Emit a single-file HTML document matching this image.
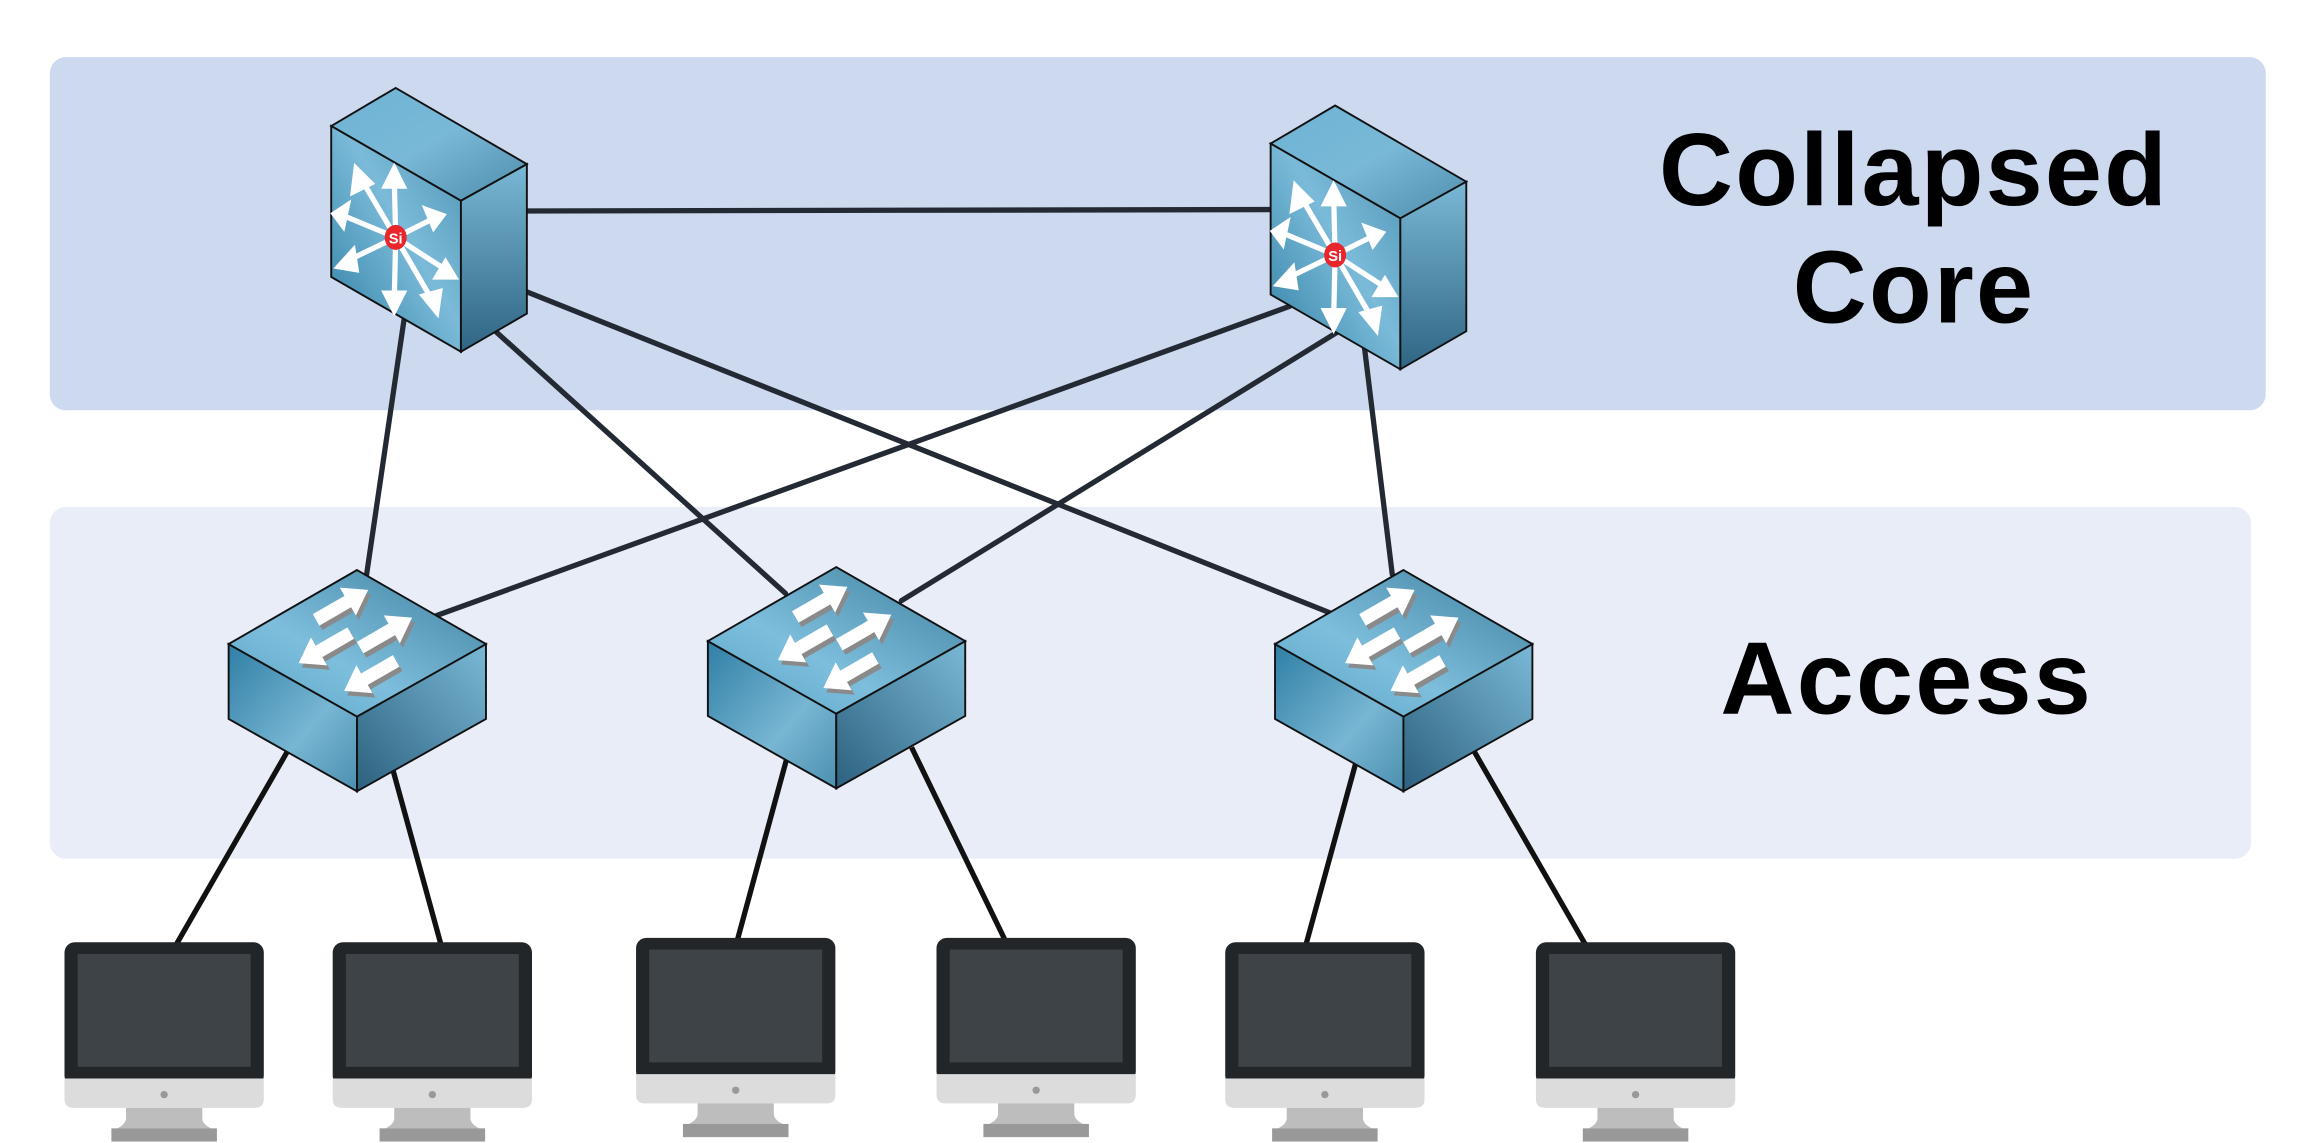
<!DOCTYPE html>
<html><head><meta charset="utf-8"><style>
html,body{margin:0;padding:0;background:#fff;}
svg{display:block;}
</style></head><body>
<svg width="2298" height="1143" viewBox="0 0 1568 780" preserveAspectRatio="none" xmlns="http://www.w3.org/2000/svg">
<defs>
<linearGradient id="cf" x1="0" y1="1" x2="1" y2="0"><stop offset="0" stop-color="#2f7ea3"/><stop offset="0.55" stop-color="#7bbbd9"/><stop offset="1" stop-color="#4f93b3"/></linearGradient>
<linearGradient id="ct" x1="0" y1="0" x2="1" y2="1"><stop offset="0" stop-color="#6db2d3"/><stop offset="0.5" stop-color="#79b9d7"/><stop offset="1" stop-color="#4d8dab"/></linearGradient>
<linearGradient id="cs" x1="0" y1="0" x2="0" y2="1"><stop offset="0" stop-color="#79b8d6"/><stop offset="1" stop-color="#2e6583"/></linearGradient>
<linearGradient id="at" x1="0" y1="1" x2="1" y2="0"><stop offset="0" stop-color="#5aa3c6"/><stop offset="0.4" stop-color="#7dbedc"/><stop offset="1" stop-color="#3f7f9e"/></linearGradient>
<linearGradient id="al" x1="0" y1="0" x2="1" y2="1"><stop offset="0" stop-color="#2f7fa6"/><stop offset="0.6" stop-color="#78b6d3"/><stop offset="1" stop-color="#4b8fb0"/></linearGradient>
<linearGradient id="ar" x1="0" y1="1" x2="1" y2="0"><stop offset="0" stop-color="#2c617f"/><stop offset="1" stop-color="#7ab9d6"/></linearGradient>
<path id="arw" d="M-20,-4.5 H5 V-11 L21,0 L5,11 V4.5 H-20 Z"/>
<g id="core">
<polygon points="226,86 270,60 359.5,112 314.5,137" fill="url(#ct)" stroke="#111" stroke-width="1.3"/>
<polygon points="226,86 314.5,137 314.5,240 226,189" fill="url(#cf)" stroke="#111" stroke-width="1.3"/>
<polygon points="314.5,137 359.5,112 359.5,214 314.5,240" fill="url(#cs)" stroke="#111" stroke-width="1.3"/>
<g stroke="#fff" stroke-width="3.6" fill="#fff">
<line x1="270" y1="162" x2="269" y2="122"/><polygon points="263,127 269,115 275,127"/>
<line x1="270" y1="162" x2="269" y2="205"/><polygon points="263,200 269,212 275,200"/>
<line x1="270" y1="162" x2="247" y2="123"/><polygon points="241,131 243,115 253,125"/>
<line x1="270" y1="162" x2="234" y2="147"/><polygon points="237,140 228,146 234,154"/>
<line x1="270" y1="162" x2="296" y2="149"/><polygon points="291,143 302,147 296,155"/>
<line x1="270" y1="162" x2="237" y2="178"/><polygon points="241,171 231,182 243,184"/>
<line x1="270" y1="162" x2="304" y2="184"/><polygon points="298,189 310,189 304,179"/>
<line x1="270" y1="162" x2="295" y2="205"/><polygon points="289,202 298,213 300,199"/>
</g>
<ellipse cx="270" cy="162" rx="7.5" ry="8.5" fill="#e8262c"/>
<text x="270" y="166" font-family="Liberation Sans,sans-serif" font-size="10" font-weight="bold" fill="#fff" text-anchor="middle">Si</text>
</g>
<g id="acc">
<polygon points="156,439.5 243.6,489 243.6,540 156,490.6" fill="url(#al)" stroke="#111" stroke-width="1.3"/>
<polygon points="243.6,489 331.6,439.5 331.6,490.6 243.6,540" fill="url(#ar)" stroke="#111" stroke-width="1.3"/>
<polygon points="243.6,389 331.6,439.5 243.6,489 156,439.5" fill="url(#at)" stroke="#111" stroke-width="1.3"/>
<g fill="#8a8a8a">
<use href="#arw" transform="translate(235,416) rotate(-30)"/>
<use href="#arw" transform="translate(224,445) rotate(150)"/>
<use href="#arw" transform="translate(265,435) rotate(-30)"/>
<use href="#arw" transform="translate(255,464) rotate(150)"/>
</g>
<g fill="#fff">
<use href="#arw" transform="translate(233,413) rotate(-30)"/>
<use href="#arw" transform="translate(222,442) rotate(150)"/>
<use href="#arw" transform="translate(263,432) rotate(-30)"/>
<use href="#arw" transform="translate(253,461) rotate(150)"/>
</g>
</g>
<g id="pc">
<rect x="0" y="0" width="136" height="98" rx="7" fill="#222629"/>
<rect x="9" y="8" width="118" height="77" fill="#3e4347"/>
<path d="M0,93 H136 V107 Q136,113 130,113 H6 Q0,113 0,107 Z" fill="#dcdcdc"/>
<circle cx="68" cy="104" r="2.5" fill="#999"/>
<path d="M42,113 H94 V120 Q94,124 100,127 H36 Q42,124 42,120 Z" fill="#bdbdbd"/>
<rect x="32" y="127" width="72" height="9" fill="#999"/>
</g>
</defs>
<rect x="34" y="39" width="1512" height="241" rx="11" fill="#cdd9ef"/>
<rect x="34" y="346" width="1502" height="240" rx="11" fill="#e9edf8"/>
<g stroke="#232a33" stroke-width="3.6" stroke-linecap="round">
<line x1="355" y1="144" x2="870" y2="143"/>
<line x1="276" y1="216" x2="250" y2="393"/>
<line x1="338" y1="226" x2="536" y2="405"/>
<line x1="359" y1="199" x2="907" y2="418"/>
<line x1="880" y1="209" x2="298" y2="420"/>
<line x1="912" y1="227" x2="615" y2="410"/>
<line x1="931" y1="237" x2="950" y2="392"/>
</g>
<g stroke="#111" stroke-width="3.6">
<line x1="196" y1="513" x2="120" y2="645"/>
<line x1="268" y1="525" x2="301" y2="645"/>
<line x1="537" y1="517" x2="503" y2="642"/>
<line x1="622" y1="510" x2="686" y2="642"/>
<line x1="925" y1="521" x2="891" y2="645"/>
<line x1="1006" y1="513" x2="1082" y2="645"/>
</g>
<use href="#core"/>
<use href="#core" transform="translate(641,12)"/>
<use href="#acc"/>
<use href="#acc" transform="translate(327,-2)"/>
<use href="#acc" transform="translate(714,0)"/>
<use href="#pc" transform="translate(44,643)"/>
<use href="#pc" transform="translate(227,643)"/>
<use href="#pc" transform="translate(434,640)"/>
<use href="#pc" transform="translate(639,640)"/>
<use href="#pc" transform="translate(836,643)"/>
<use href="#pc" transform="translate(1048,643)"/>
<g font-family="Liberation Sans,sans-serif" font-weight="bold" fill="#000" text-anchor="middle">
<text x="1306" y="140" font-size="70" letter-spacing="1.5">Collapsed</text>
<text x="1306" y="220" font-size="70" letter-spacing="1.5">Core</text>
<text x="1301" y="487" font-size="70" letter-spacing="1.5">Access</text>
</g>
</svg>
</body></html>
